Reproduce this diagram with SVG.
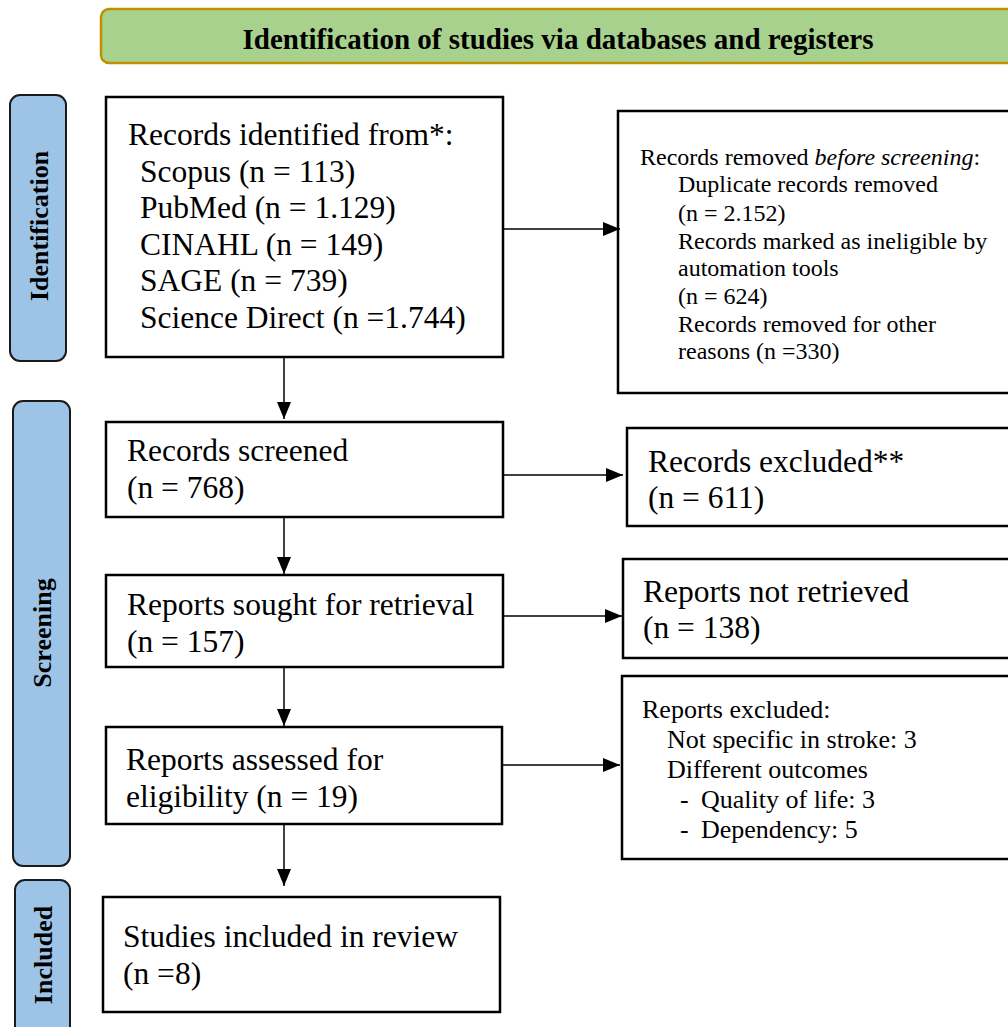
<svg xmlns="http://www.w3.org/2000/svg" width="1008" height="1027" viewBox="0 0 1008 1027">
<defs>
<marker id="arr" markerWidth="17" markerHeight="14" refX="17" refY="7" orient="auto" markerUnits="userSpaceOnUse">
<path d="M0,0 L17,7 L0,14 Z" fill="#000"/>
</marker>
<style>
.box{fill:#fff;stroke:#000;stroke-width:2.5}
.side{fill:#9dc3e6;stroke:#1a1a1a;stroke-width:2}
.sideT{font-family:"Liberation Serif",serif;font-weight:bold;font-size:26px;fill:#000;text-anchor:middle}
.t{font-family:"Liberation Serif",serif;font-size:31.5px;fill:#000}
.s{font-family:"Liberation Serif",serif;font-size:24px;fill:#000}
.m{font-family:"Liberation Serif",serif;font-size:26px;fill:#000}
.con{stroke:#000;stroke-width:1.5;fill:none}
</style>
</defs>
<rect width="1008" height="1027" fill="#fff"/>

<g id="header">
<rect x="101" y="9" width="918" height="54" rx="8" fill="#a9d18e" stroke="#bf9000" stroke-width="2.5"/>
<text x="558" y="49" font-family="Liberation Serif, serif" font-weight="bold" font-size="29" text-anchor="middle">Identification of studies via databases and registers</text>
</g>

<g id="phase-identification">
<rect class="side" x="10" y="95" width="56" height="266" rx="10"/>
<text class="sideT" transform="translate(48,226) rotate(-90)">Identification</text>
</g>
<g id="phase-screening">
<rect class="side" x="13" y="401" width="57" height="465" rx="10"/>
<text class="sideT" transform="translate(51,633) rotate(-90)">Screening</text>
</g>
<g id="phase-included">
<rect class="side" x="15" y="880" width="55" height="160" rx="10"/>
<text class="sideT" transform="translate(52,955) rotate(-90)">Included</text>
</g>

<g id="records-identified">
<rect class="box" x="106" y="97" width="397" height="260"/>
<text class="t" x="128" y="145">Records identified from*:</text>
<text class="t" x="140" y="182">Scopus (n = 113)</text>
<text class="t" x="140" y="218">PubMed (n = 1.129)</text>
<text class="t" x="140" y="255">CINAHL (n = 149)</text>
<text class="t" x="140" y="291">SAGE (n = 739)</text>
<text class="t" x="140" y="328">Science Direct (n =1.744)</text>
</g>

<g id="records-removed">
<rect class="box" x="618" y="111" width="400" height="282"/>
<text class="s" x="640" y="165">Records removed <tspan font-style="italic">before screening</tspan>:</text>
<text class="s" x="678" y="192">Duplicate records removed</text>
<text class="s" x="678" y="221">(n = 2.152)</text>
<text class="s" x="678" y="249">Records marked as ineligible by</text>
<text class="s" x="678" y="276">automation tools</text>
<text class="s" x="678" y="304">(n = 624)</text>
<text class="s" x="678" y="332">Records removed for other</text>
<text class="s" x="678" y="359">reasons (n =330)</text>
</g>

<g id="records-screened">
<rect class="box" x="106" y="422" width="397" height="95"/>
<text class="t" x="127" y="461">Records screened</text>
<text class="t" x="127" y="498">(n = 768)</text>
</g>

<g id="records-excluded">
<rect class="box" x="627" y="428" width="391" height="98"/>
<text class="t" x="648" y="472">Records excluded**</text>
<text class="t" x="648" y="508">(n = 611)</text>
</g>

<g id="reports-sought">
<rect class="box" x="106" y="575" width="397" height="92"/>
<text class="t" x="127" y="615">Reports sought for retrieval</text>
<text class="t" x="127" y="652">(n = 157)</text>
</g>

<g id="reports-not-retrieved">
<rect class="box" x="623" y="559" width="395" height="99"/>
<text class="t" x="643" y="602">Reports not retrieved</text>
<text class="t" x="643" y="638">(n = 138)</text>
</g>

<g id="reports-assessed">
<rect class="box" x="106" y="727" width="396" height="97"/>
<text class="t" x="126" y="770">Reports assessed for</text>
<text class="t" x="126" y="807">eligibility (n = 19)</text>
</g>

<g id="reports-excluded">
<rect class="box" x="622" y="676" width="396" height="183"/>
<text class="m" x="642" y="718">Reports excluded:</text>
<text class="m" x="667" y="748">Not specific in stroke: 3</text>
<text class="m" x="667" y="778">Different outcomes</text>
<text class="m" x="680" y="808">-</text>
<text class="m" x="701" y="808">Quality of life: 3</text>
<text class="m" x="680" y="838">-</text>
<text class="m" x="701" y="838">Dependency: 5</text>
</g>

<g id="studies-included">
<rect class="box" x="103" y="897" width="397" height="115"/>
<text class="t" x="123" y="947">Studies included in review</text>
<text class="t" x="123" y="984">(n =8)</text>
</g>

<g id="connectors">
<line class="con" x1="284" y1="358" x2="284" y2="419" marker-end="url(#arr)"/>
<line class="con" x1="284" y1="517" x2="284" y2="574" marker-end="url(#arr)"/>
<line class="con" x1="284" y1="667" x2="284" y2="726" marker-end="url(#arr)"/>
<line class="con" x1="284" y1="825" x2="284" y2="886" marker-end="url(#arr)"/>
<line class="con" x1="503" y1="229" x2="620" y2="229" marker-end="url(#arr)"/>
<line class="con" x1="503" y1="475" x2="623" y2="475" marker-end="url(#arr)"/>
<line class="con" x1="503" y1="616" x2="622" y2="616" marker-end="url(#arr)"/>
<line class="con" x1="502" y1="765" x2="620" y2="765" marker-end="url(#arr)"/>
</g>
</svg>
